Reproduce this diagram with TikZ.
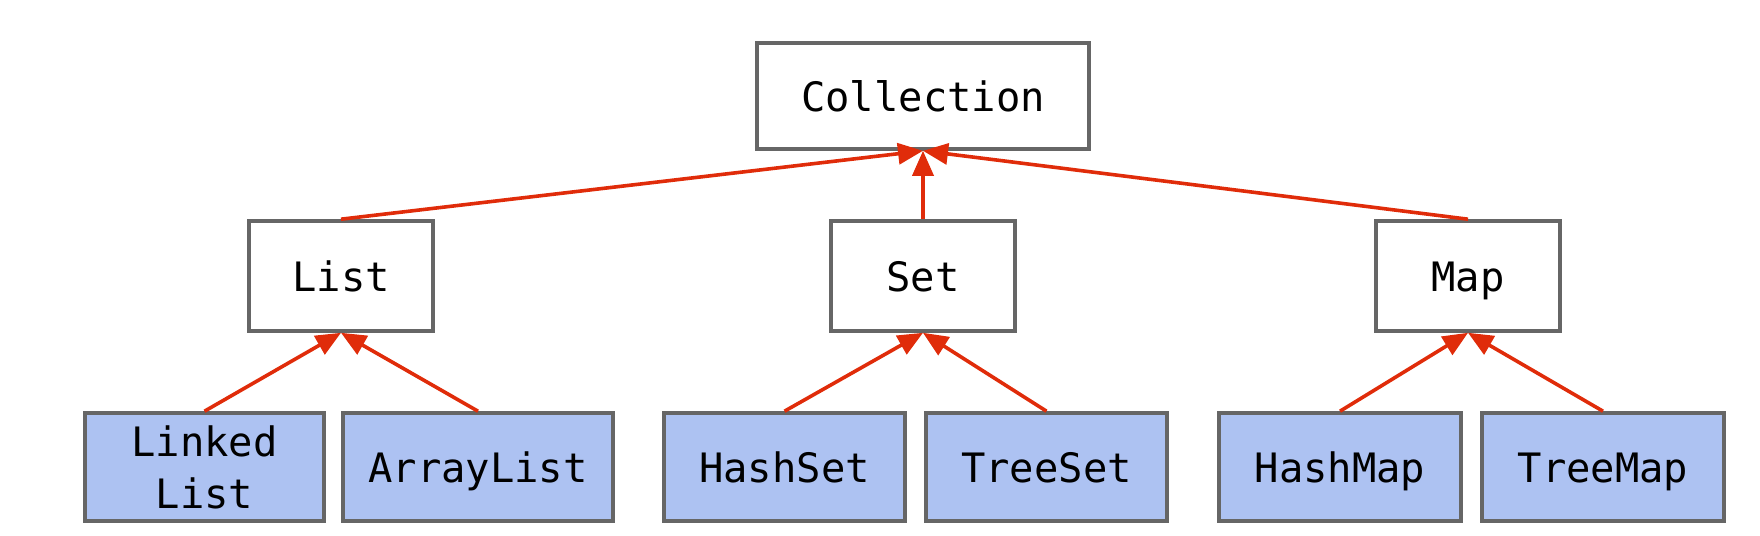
\documentclass[tikz,border=0pt]{standalone}
\usepackage{fontspec}
\setmonofont{DejaVu Sans Mono}
\usetikzlibrary{arrows.meta}
\definecolor{boxline}{HTML}{666666}
\definecolor{boxfill}{HTML}{ADC2F2}
\definecolor{arrred}{RGB}{224,44,10}
\begin{document}
\begin{tikzpicture}[x=1pt,y=-1pt,
  box/.style={draw=boxline,line width=3.6pt,rectangle,inner sep=0pt,
    font=\ttfamily\fontsize{40.5}{52}\selectfont,align=center,text=black,
    text height=31pt,text depth=0pt},
  topbox/.style={box,fill=white,minimum width=332pt,minimum height=106pt},
  midbox/.style={box,fill=white,minimum width=184pt,minimum height=110pt},
  leafbox/.style={box,fill=boxfill,minimum height=108pt},
  inh/.style={draw=arrred,line width=3.6pt,-{Triangle[length=25pt,width=21pt]}}
]
\useasboundingbox (0,0) rectangle (1760,535);
\node[topbox] (coll) at (923,96) {Collection};
\node[midbox] (list) at (341,276) {List};
\node[midbox] (set) at (923,276) {Set};
\node[midbox] (map) at (1468,276) {Map};
\node[leafbox,minimum width=239pt,text height=83pt] (ll) at (204.5,467) {Linked\\List};
\node[leafbox,minimum width=270pt] (al) at (478,467) {ArrayList};
\node[leafbox,minimum width=241pt] (hs) at (784.5,467) {HashSet};
\node[leafbox,minimum width=241pt] (ts) at (1046.5,467) {TreeSet};
\node[leafbox,minimum width=242pt] (hm) at (1340,467) {HashMap};
\node[leafbox,minimum width=242pt] (tm) at (1603,467) {TreeMap};
\draw[inh] (list.north) -- (coll.south);
\draw[inh] (set.north) -- (coll.south);
\draw[inh] (map.north) -- (coll.south);
\draw[inh] (ll.north) -- (list.south);
\draw[inh] (al.north) -- (list.south);
\draw[inh] (hs.north) -- (set.south);
\draw[inh] (ts.north) -- (set.south);
\draw[inh] (hm.north) -- (map.south);
\draw[inh] (tm.north) -- (map.south);
\end{tikzpicture}
\end{document}
